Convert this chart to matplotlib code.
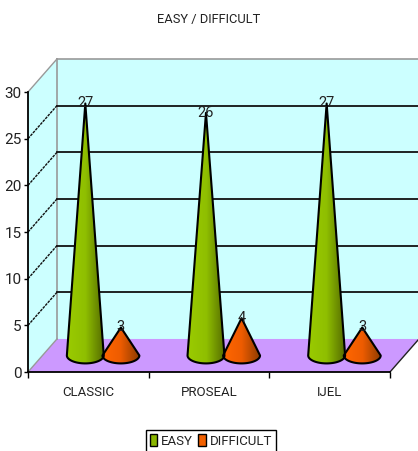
import matplotlib
matplotlib.use("Agg")
import matplotlib.pyplot as plt
import numpy as np
from matplotlib.patches import Patch, Polygon

plt.rcParams["font.family"] = ["Roboto", "Liberation Sans", "DejaVu Sans"]

categories = ["CLASSIC", "PROSEAL", "IJEL"]
easy = [27, 26, 27]
difficult = [3, 4, 3]
y_ticks = [0, 5, 10, 15, 20, 25, 30]

# depth of the fake 3d box, in data units
DX = 0.24
DY = 3.54
TEXT = "#222222"

green = ["#9acb00", "#8fbf00", "#566d00"]
orange = ["#ff6600", "#ee5c00", "#8f3c00"]

fig = plt.figure(figsize=(4.18, 4.51), dpi=100, facecolor="white")
ax = fig.add_axes([28 / 418, 79 / 451, 362 / 418, 280 / 451])
ax.set_xlim(0, 3)
ax.set_ylim(0, 30)
ax.patch.set_visible(False)
for s in ["top", "right"]:
    ax.spines[s].set_visible(False)
for s in ["left", "bottom"]:
    ax.spines[s].set_linewidth(1.3)
    ax.spines[s].set_zorder(6)

# walls and floor
wall = "#ccffff"
ax.add_patch(Polygon([(0, 0), (DX, DY), (DX, 30 + DY), (0, 30)], fc=wall, ec="none", clip_on=False, zorder=0))
ax.add_patch(Polygon([(DX, DY), (3 + DX, DY), (3 + DX, 30 + DY), (DX, 30 + DY)], fc=wall, ec="none", clip_on=False, zorder=0))
ax.add_patch(Polygon([(0, 0), (3, 0), (3 + DX, DY), (DX, DY)], fc="#cc99ff", ec="none", clip_on=False, zorder=1))

# outline of the box
ax.plot([DX, DX], [DY, 30 + DY], color="#999999", lw=1.2, clip_on=False, zorder=2)
ax.plot([DX, 3 + DX], [30 + DY, 30 + DY], color="#999999", lw=1.2, clip_on=False, zorder=2)
ax.plot([0, DX], [30, 30 + DY], color="#999999", lw=1.0, clip_on=False, zorder=2)
ax.plot([0, DX], [0, DY], color="#999999", lw=1.0, clip_on=False, zorder=2)
ax.plot([3, 3 + DX], [0, DY], color="#222222", lw=1.0, clip_on=False, zorder=2)

# gridlines
for v in y_ticks[1:-1]:
    ax.plot([DX, 3 + DX], [v + DY, v + DY], color="#111111", lw=1.3, clip_on=False, zorder=2)
    ax.plot([0, DX], [v, v + DY], color="#111111", lw=1.0, ls=(0, (2, 0.7)), clip_on=False, zorder=2)


def cone(xc, val, colors, half_w=0.153, half_h=0.85):
    base = DY / 2
    t = np.linspace(np.pi, 2 * np.pi, 40)
    xs = xc + half_w * np.cos(t)
    ys = base + half_h * np.sin(t)
    pts = list(zip(xs, ys)) + [(xc, base + val)]
    grad = np.linspace(0, 1, 64)
    rgb = np.array([matplotlib.colors.to_rgb(c) for c in colors])
    img = np.stack([np.interp(grad, [0, 0.5, 1], rgb[:, i]) for i in range(3)], axis=-1)[None, :, :]
    im = ax.imshow(img, extent=[xc - half_w, xc + half_w, base - half_h, base + val],
                   aspect="auto", zorder=3, clip_on=True)
    pg = Polygon(pts, closed=True, fc="none", ec="black", lw=1.5, zorder=4, clip_on=False, joinstyle="round")
    ax.add_patch(pg)
    im.set_clip_path(pg)
    ax.text(xc, base + val, str(val), ha="center", va="center", fontsize=10.5, color=TEXT, zorder=5, clip_on=False)


# cones, left to right
for i in range(3):
    cone(i + 0.5 + DX / 2 - 0.145, easy[i], green)
    cone(i + 0.5 + DX / 2 + 0.15, difficult[i], orange)

ax.set_xlim(0, 3)
ax.set_ylim(0, 30)

ax.set_yticks(y_ticks)
ax.set_xticks([0, 1, 2, 3])
ax.set_xticklabels([])
ax.set_xticks([0.5, 1.5, 2.5], minor=True)
ax.set_xticklabels(categories, minor=True, fontsize=9.5, color=TEXT)
ax.tick_params(axis="x", which="major", length=4, width=1.0, color="black")
ax.tick_params(axis="x", which="minor", length=0, pad=10)
ax.tick_params(axis="y", length=3, width=1.0, labelsize=11, labelcolor=TEXT, pad=1.5)

fig.text(209 / 418, 1 - 20 / 451, "EASY / DIFFICULT", ha="center", va="center", fontsize=9.3, color=TEXT)

handles = [Patch(fc="#8ab500", ec="black", lw=1.0), Patch(fc="#f26000", ec="black", lw=1.0)]
fig.legend(handles, ["EASY", "DIFFICULT"], loc="center", bbox_to_anchor=(211 / 418, 1 - 441 / 451),
           ncol=2, fontsize=9.5, frameon=True, fancybox=False, edgecolor="black", framealpha=1,
           handlelength=0.55, handleheight=1.0, handletextpad=0.3, columnspacing=0.4,
           borderpad=0.3, borderaxespad=0, labelcolor=TEXT)

fig.savefig("out.png", dpi=100)
plt.close(fig)
